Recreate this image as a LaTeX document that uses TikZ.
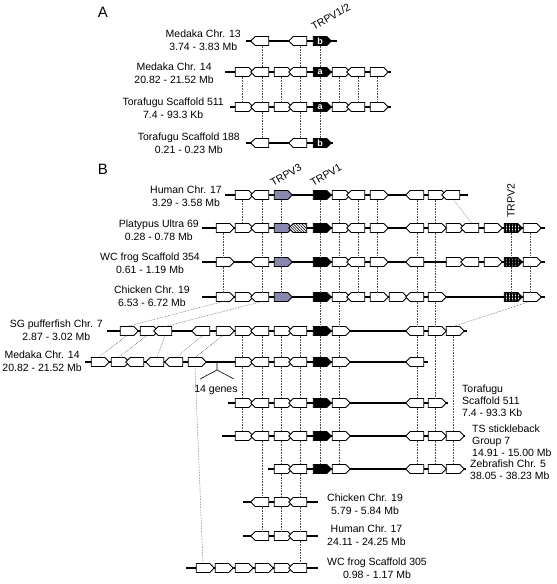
\documentclass[tikz,border=0pt]{standalone}
\usepackage{fontspec}
\setmainfont{Liberation Sans}
\usetikzlibrary{shapes.symbols,patterns.meta}
\definecolor{trpvthree}{RGB}{135,135,175}
\begin{document}
\begin{tikzpicture}[x=1pt,y=-1pt,
  every node/.style={font=\fontsize{10.5}{13}\selectfont},
  gene/.style={shape=signal, draw=black, line width=0.75pt, fill=white, minimum width=18pt, minimum height=9pt, inner sep=0pt, outer sep=0pt},
  geneR/.style={gene, signal to=east},
  geneL/.style={gene, signal to=west},
  blkR/.style={geneR, fill=black},
  purR/.style={geneR, fill=trpvthree},
  hatL/.style={geneL, preaction={fill=white}, pattern={Lines[angle=-45,distance=2pt,line width=0.6pt]}},
  gridR/.style={geneR, preaction={fill=white}, pattern={Hatch[angle=0,distance=1.5pt,line width=0.4pt]}},
  dgridR/.style={geneR, preaction={fill=black!50}, pattern={Hatch[angle=0,distance=1.5pt,line width=0.4pt]}},
  glab/.style={text=white, font=\bfseries\fontsize{9}{9}\selectfont},
  backbone/.style={line width=1.6pt},
  conn/.style={draw=black!70, line width=0.5pt, dash pattern=on 0.6pt off 1pt},
  lab/.style={align=center, inner sep=0pt},
  labl/.style={align=left, inner sep=0pt, font=\fontsize{10.5}{12}\selectfont},
  trpv/.style={inner sep=0pt},
  panel/.style={font=\fontsize{15}{15}\selectfont, inner sep=0pt}
]
\useasboundingbox (0,0) rectangle (557,584);

% ---------------- Panel A ----------------
\node[panel] (pA) at (103,12) {A};
\coordinate (A1s) at (246,41);  \coordinate (A1e) at (337,41);
\coordinate (A2s) at (225,72);  \coordinate (A2e) at (391,72);
\coordinate (A3s) at (230,107); \coordinate (A3e) at (391,107);
\coordinate (A4s) at (246,143); \coordinate (A4e) at (333,143);
\foreach \r in {A1,A2,A3,A4} \draw[backbone] (\r s) -- (\r e);
\node[geneL] (A1-262) at (262,41) {};
\node[geneL] (A1-300) at (300,41) {};
\node[blkR,glab] (A1-320) at (320,41) {b};
\foreach \x/\s in {242/geneR,262/geneL,281/geneR,300/geneL,339/geneR,358/geneL,377/geneR}
  \node[\s] (A2-\x) at (\x,72) {};
\node[blkR,glab] (A2-320) at (320,72) {a};
\foreach \x/\s in {242/geneR,262/geneL,281/geneR,300/geneL,339/geneR,358/geneL,377/geneR}
  \node[\s] (A3-\x) at (\x,107) {};
\node[blkR,glab] (A3-320) at (320,107) {a};
\node[geneL] (A4-262) at (262,143) {};
\node[geneL] (A4-300) at (300,143) {};
\node[blkR,glab] (A4-320) at (320,143) {b};
\foreach \x in {262,300,320} \draw[conn] (A1-\x.south) -- (A2-\x.north);
\foreach \x in {242,262,281,300,320,339,358,377} \draw[conn] (A2-\x.south) -- (A3-\x.north);
\foreach \x in {262,300,320} \draw[conn] (A3-\x.south) -- (A4-\x.north);
\node[lab,anchor=east] (A1lab) at (241,40) {Medaka Chr. 13\\3.74 - 3.83 Mb};
\node[lab,anchor=east] (A2lab) at (214,73) {Medaka Chr. 14\\20.82 - 21.52 Mb};
\node[lab,anchor=east] (A3lab) at (224,108) {Torafugu Scaffold 511\\7.4 - 93.3 Kb};
\node[lab,anchor=east] (A4lab) at (240,143) {Torafugu Scaffold 188\\0.21 - 0.23 Mb};
\node[trpv,rotate=30,anchor=base west] (tA) at (314,31) {TRPV1/2};

% ---------------- Panel B ----------------
\node[panel] (pB) at (103,169) {B};
\coordinate (Hs) at (225,195);  \coordinate (He) at (468,195);
\coordinate (Ps) at (202,228);  \coordinate (Pe) at (545,228);
\coordinate (Ws) at (202,262);  \coordinate (We) at (545,262);
\coordinate (Cs) at (202,297);  \coordinate (Ce) at (545,297);
\coordinate (Ss) at (107,331);  \coordinate (Se) at (467,331);
\coordinate (Ms) at (85,362);   \coordinate (Me) at (428,362);
\coordinate (Ts) at (228,403);  \coordinate (Te) at (448,403);
\coordinate (Ks) at (222,436);  \coordinate (Ke) at (465,436);
\coordinate (Zs) at (268,469);  \coordinate (Ze) at (466,469);
\coordinate (Qs) at (243,502);  \coordinate (Qe) at (318,502);
\coordinate (Us) at (243,536);  \coordinate (Ue) at (318,536);
\coordinate (Fs) at (186,568);  \coordinate (Fe) at (318,568);
\foreach \r in {H,P,W,C,S,M,T,K,Z,Q,U,F} \draw[backbone] (\r s) -- (\r e);
\coordinate (br0) at (217,362); \coordinate (br1) at (217,370);
\coordinate (brL) at (200,379); \coordinate (brR) at (234,379);
\draw[line width=0.6pt] (br0) -- (br1) -- (brL) (br1) -- (brR);
\node[inner sep=0pt] (fourteen) at (216,390) {14 genes};

\foreach \x/\s in {242/geneR,262/geneL,281/purR,320/blkR,339/geneR,358/geneL,377/geneR,417/geneL,435/geneR,453/geneL}
  \node[\s] (H-\x) at (\x,195) {};
\foreach \x/\s in {223/geneR,242/geneR,262/geneL,281/purR,300/hatL,320/blkR,339/geneR,358/geneL,377/geneR,417/geneL,435/geneR,453/geneR,472/geneL,491/geneR,511/gridR,530/geneR}
  \node[\s] (P-\x) at (\x,228) {};
\foreach \x/\s in {223/geneR,262/geneL,281/purR,320/blkR,339/geneR,358/geneL,377/geneR,417/geneL,453/geneR,472/geneL,491/geneR,511/dgridR,530/geneR}
  \node[\s] (W-\x) at (\x,262) {};
\foreach \x/\s in {223/geneR,242/geneR,262/geneL,281/purR,320/blkR,339/geneR,358/geneL,377/geneR,396/geneR,417/geneL,435/geneR,511/gridR,530/geneR}
  \node[\s] (C-\x) at (\x,297) {};
\foreach \x/\s in {127/geneR,147/geneR,165/geneL,203/geneL,223/geneR,242/geneR,262/geneL,281/geneR,300/geneL,320/blkR,339/geneR,417/geneL,435/geneR,453/geneR}
  \node[\s] (S-\x) at (\x,331) {};
\foreach \x/\s in {98/geneR,118/geneR,137/geneL,157/geneL,176/geneL,195/geneR,242/geneR,262/geneL,281/geneR,300/geneL,320/blkR,339/geneR,417/geneL}
  \node[\s] (M-\x) at (\x,362) {};
\foreach \x/\s in {242/geneR,262/geneL,281/geneR,300/geneL,320/blkR,339/geneR,417/geneL,435/geneR}
  \node[\s] (T-\x) at (\x,403) {};
\foreach \x/\s in {242/geneR,262/geneL,281/geneR,300/geneL,320/blkR,339/geneR,417/geneL,435/geneR,453/geneR}
  \node[\s] (K-\x) at (\x,436) {};
\foreach \x/\s in {281/geneR,300/geneL,320/blkR,339/geneR,417/geneL,435/geneR,453/geneR}
  \node[\s] (Z-\x) at (\x,469) {};
\foreach \x/\s in {262/geneL,281/geneR,300/geneL}
  \node[\s] (Q-\x) at (\x,502) {};
\foreach \x/\s in {262/geneL,281/geneR,300/geneL}
  \node[\s] (U-\x) at (\x,536) {};
\foreach \x/\s in {203/geneR,222/geneR,242/geneR,262/geneR,281/geneR,300/geneL}
  \node[\s] (F-\x) at (\x,568) {};

\foreach \x in {242,262,281,320,339,358,377,417,435} \draw[conn] (H-\x.south) -- (P-\x.north);
\draw[conn] (H-453.south) -- (P-472.north);
\foreach \x in {223,262,281,320,339,358,377,417,511,530} \draw[conn] (P-\x.south) -- (W-\x.north);
\draw[conn] (P-435.south) -- (C-435.north);
\foreach \x in {223,262,281,320,339,358,377,417,511,530} \draw[conn] (W-\x.south) -- (C-\x.north);
\foreach \x in {320,339,417,435} \draw[conn] (C-\x.south) -- (S-\x.north);
\draw[conn] (C-223.south) -- (S-127.north);
\draw[conn] (C-262.south) -- (S-165.north);
\draw[conn] (C-530.south) -- (S-453.north);
\foreach \x in {242,262,281,300,320,339,417} \draw[conn] (S-\x.south) -- (M-\x.north);
\draw[conn] (S-127.south) -- (M-98.north);
\draw[conn] (S-147.south) -- (M-118.north);
\draw[conn] (S-165.south) -- (M-157.north);
\draw[conn] (S-203.south) -- (M-176.north);
\draw[conn] (S-223.south) -- (M-195.north);
\draw[conn] (S-435.south) -- (T-435.north);
\draw[conn] (S-453.south) -- (K-453.north);
\foreach \x in {242,262,281,300,320,339,417} \draw[conn] (M-\x.south) -- (T-\x.north);
\draw[conn] (M-195.south) -- (F-203.north);
\foreach \x in {242,262,281,300,320,339,417,435} \draw[conn] (T-\x.south) -- (K-\x.north);
\foreach \x in {281,300,320,339,417,435,453} \draw[conn] (K-\x.south) -- (Z-\x.north);
\draw[conn] (K-262.south) -- (Q-262.north);
\foreach \x in {281,300} \draw[conn] (Z-\x.south) -- (Q-\x.north);
\foreach \x in {262,281,300} \draw[conn] (Q-\x.south) -- (U-\x.north);
\draw[conn] (U-300.south) -- (F-300.north);

\node[trpv,rotate=30,anchor=base west] (t3) at (273,187) {TRPV3};
\node[trpv,rotate=30,anchor=base west] (t1) at (313,187) {TRPV1};
\node[trpv,rotate=90,anchor=west] (t2) at (511,218) {TRPV2};
\node[lab,anchor=east] (Hlab) at (222,196) {Human Chr. 17\\3.29 - 3.58 Mb};
\node[lab,anchor=east] (Plab) at (199,230) {Platypus Ultra 69\\0.28 - 0.78 Mb};
\node[lab,anchor=east] (Wlab) at (200,263) {WC frog Scaffold 354\\0.61 - 1.19 Mb};
\node[lab,anchor=east] (Clab) at (190,296) {Chicken Chr. 19\\6.53 - 6.72 Mb};
\node[lab,anchor=east] (Slab) at (103,330) {SG pufferfish Chr. 7\\2.87 - 3.02 Mb};
\node[lab,anchor=east] (Mlab) at (82,361) {Medaka Chr. 14\\20.82 - 21.52 Mb};
\node[labl,anchor=west] (Tlab) at (462,401) {Torafugu\\Scaffold 511\\7.4 - 93.3 Kb};
\node[labl,anchor=west] (Klab) at (472,441) {TS stickleback\\Group 7\\14.91 - 15.00 Mb};
\node[labl,anchor=west] (Zlab) at (470,470) {Zebrafish Chr. 5\\38.05 - 38.23 Mb};
\node[lab,anchor=west] (Qlab) at (327,504) {Chicken Chr. 19\\5.79 - 5.84 Mb};
\node[lab,anchor=west] (Ulab) at (327,535) {Human Chr. 17\\24.11 - 24.25 Mb};
\node[lab,anchor=west] (Flab) at (327,568) {WC frog Scaffold 305\\0.98 - 1.17 Mb};
\end{tikzpicture}
\end{document}
